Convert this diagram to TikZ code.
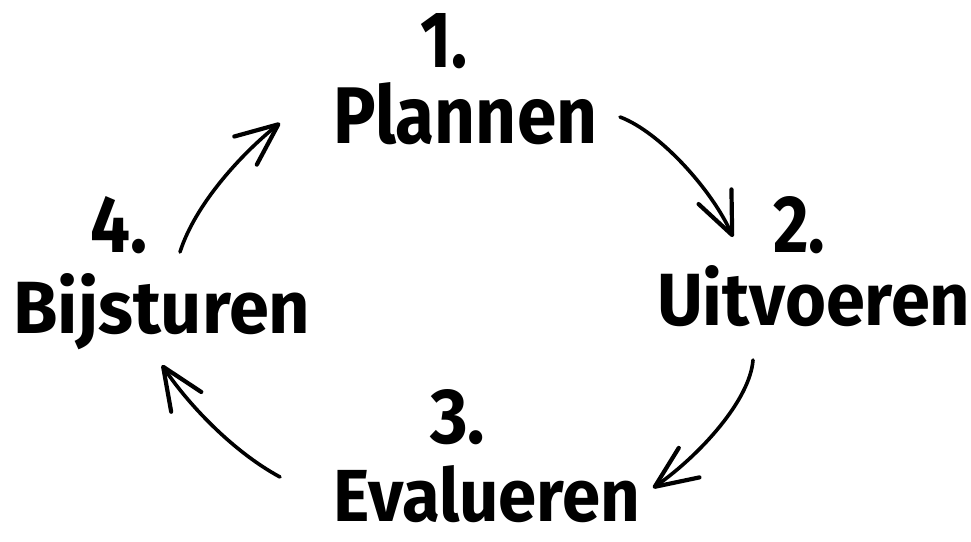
\documentclass[tikz,border=0pt]{standalone}
\usepackage{fontspec}
\usepackage{graphicx}
\setmainfont{Fira Sans}
\usetikzlibrary{arrows.meta}
\newcommand\fitbox[3]{\resizebox{#1pt}{#2pt}{#3}}
\tikzset{
  lbl/.style={inner sep=0pt, anchor=base west, font=\bfseries},
  cyc/.style={line width=3.6pt, line cap=round,
    -{Straight Barb[length=42pt,width=36pt,line width=4.2pt,round]}}
}
\begin{document}
\begin{tikzpicture}[x=1pt,y=-1pt]
\useasboundingbox (0,0) rectangle (971,541);
% labels
\node[lbl] (n1) at (420,67) {\fitbox{47}{54}{1.}};
\node[lbl] (plan) at (333,143) {\fitbox{264}{61}{Plannen}};
\node[lbl] (n2) at (773,252) {\fitbox{52}{56}{2.}};
\node[lbl] (uitv) at (657,325) {\fitbox{313}{60}{Uitvoeren}};
\node[lbl] (n3) at (430,443) {\fitbox{55}{54}{3.}};
\node[lbl] (eval) at (333,521) {\fitbox{307}{56}{Evalueren}};
\node[lbl] (n4) at (90,252) {\fitbox{57}{56}{4.}};
\node[lbl] (bijs) at (13,333) {\fitbox{297}{60}{Bijsturen}};
% arrow end points
\coordinate (a1s) at (620,117); \coordinate (a1e) at (733,237);
\coordinate (a2s) at (753,360); \coordinate (a2e) at (653,488);
\coordinate (a3s) at (280,477); \coordinate (a3e) at (162,365);
\coordinate (a4s) at (180,252); \coordinate (a4e) at (280,123);
% arrows
\draw[cyc] (a1s) .. controls (660,132) and (712,190) .. (a1e);
\draw[cyc] (a2s) .. controls (750,400) and (700,455) .. (a2e);
\draw[cyc] (a3s) .. controls (230,450) and (185,400) .. (a3e);
\draw[cyc] (a4s) .. controls (195,205) and (240,155) .. (a4e);
\end{tikzpicture}
\end{document}
